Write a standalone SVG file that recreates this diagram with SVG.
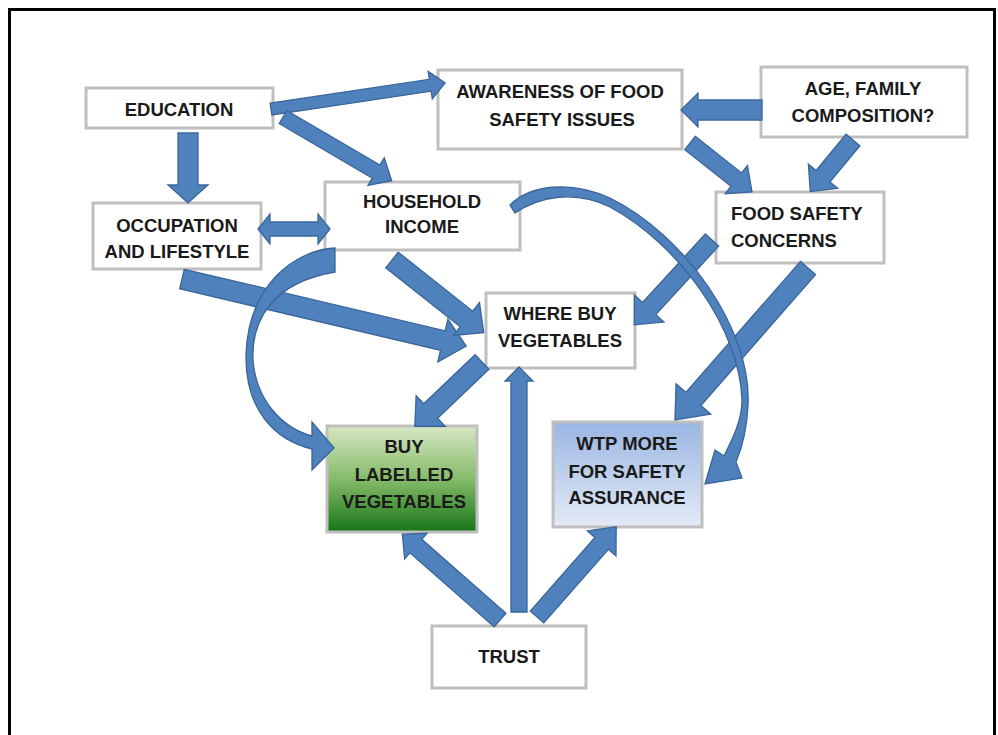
<svg xmlns="http://www.w3.org/2000/svg" width="998" height="735" viewBox="0 0 998 735">
<style>
.box{fill:#fff;stroke:#bfbfbf;stroke-width:3}
.t{font-family:"Liberation Sans",Arial,sans-serif;font-weight:bold;font-size:18.5px;fill:#1a1a1a;text-anchor:middle}
.tl{text-anchor:start}
.ar{fill:#4f81bd;stroke:#3a659a;stroke-width:1.3;stroke-linejoin:miter}
</style>
<defs>
<linearGradient id="gGreen" x1="0" y1="0" x2="0" y2="1">
<stop offset="0" stop-color="#d6e7c2"/>
<stop offset="0.5" stop-color="#86bb6a"/>
<stop offset="1" stop-color="#177517"/>
</linearGradient>
<linearGradient id="gBlue" x1="0" y1="0" x2="0" y2="1">
<stop offset="0" stop-color="#9ab5e2"/>
<stop offset="1" stop-color="#e4ebf7"/>
</linearGradient>
</defs>
<rect x="0" y="0" width="998" height="735" fill="#fff"/>
<rect x="9.5" y="9.5" width="985" height="800" fill="none" stroke="#000" stroke-width="3"/>

<g id="n-education"><rect class="box" x="86" y="88" width="187" height="40"/><text class="t" x="179" y="116">EDUCATION</text></g>
<g id="n-occupation"><rect class="box" x="93" y="203" width="168" height="66"/><text class="t" x="177" y="232">OCCUPATION</text><text class="t" x="177" y="258">AND LIFESTYLE</text></g>
<g id="n-income"><rect class="box" x="325" y="182" width="195" height="68"/><text class="t" x="422" y="208">HOUSEHOLD</text><text class="t" x="422" y="233">INCOME</text></g>
<g id="n-awareness"><rect class="box" x="438" y="70" width="244" height="79"/><text class="t" x="560" y="98">AWARENESS OF FOOD</text><text class="t" x="562" y="126">SAFETY ISSUES</text></g>
<g id="n-age"><rect class="box" x="761" y="67" width="206" height="70"/><text class="t" x="863" y="95">AGE, FAMILY</text><text class="t" x="863" y="122">COMPOSITION?</text></g>
<g id="n-concerns"><rect class="box" x="716" y="192" width="168" height="71"/><text class="t tl" x="731" y="220">FOOD SAFETY</text><text class="t tl" x="731" y="247">CONCERNS</text></g>
<g id="n-where"><rect class="box" x="486" y="293" width="149" height="75"/><text class="t" x="560" y="320">WHERE BUY</text><text class="t" x="560" y="347">VEGETABLES</text></g>
<g id="n-buy"><rect x="327" y="426" width="150" height="106" fill="url(#gGreen)" stroke="#bfbfbf" stroke-width="3"/><text class="t" x="404" y="453">BUY</text><text class="t" x="404" y="481">LABELLED</text><text class="t" x="404" y="508">VEGETABLES</text></g>
<g id="n-wtp"><rect x="553" y="422" width="149" height="105" fill="url(#gBlue)" stroke="#bfbfbf" stroke-width="3"/><text class="t" x="627" y="450">WTP MORE</text><text class="t" x="627" y="478">FOR SAFETY</text><text class="t" x="627" y="504">ASSURANCE</text></g>
<g id="n-trust"><rect class="box" x="432" y="626" width="154" height="62"/><text class="t" x="509" y="663">TRUST</text></g>

<g id="connectors">
<polygon class="ar" points="0,-10 52,-10 52,-20 70,0 52,20 52,10 0,10" transform="translate(188,133) rotate(90)"/>
<polygon class="ar" points="0,-6 161,-6 161,-14 176,0 161,14 161,6 0,6" transform="translate(271,109) rotate(-8.5)"/>
<polygon class="ar" points="0,-7.5 108,-7.5 108,-16 126,0 108,16 108,7.5 0,7.5" transform="translate(283,117) rotate(30.4)"/>
<polygon class="ar" points="258,229 270,214 270,222 318,222 318,214 330,229 318,244 318,236 270,236 270,244"/>
<polygon class="ar" points="0,-10 268,-10 268,-22 292,0 268,22 268,10 0,10" transform="translate(182,279) rotate(13.27)"/>
<polygon class="ar" points="0,-10 95,-10 95,-21 117,0 95,21 95,10 0,10" transform="translate(392,260) rotate(38.4)"/>
<polygon class="ar" points="0,-8.5 59,-8.5 59,-18 79,0 59,18 59,8.5 0,8.5" transform="translate(690,143) rotate(38.3)"/>
<polygon class="ar" points="0,-9 47,-9 47,-19 67,0 47,19 47,9 0,9" transform="translate(853,140) rotate(129.6)"/>
<polygon class="ar" points="0,-10 64,-10 64,-17 81,0 64,17 64,10 0,10" transform="translate(762,110) rotate(180)"/>
<polygon class="ar" points="0,-9 93,-9 93,-20 115,0 93,20 93,9 0,9" transform="translate(712,240) rotate(132.5)"/>
<polygon class="ar" points="0,-10 174,-10 174,-23 202,0 174,23 174,10 0,10" transform="translate(808,268) rotate(131.2)"/>
<polygon class="ar" points="0,-10 71,-10 71,-21 93,0 71,21 71,10 0,10" transform="translate(482,362) rotate(136.3)"/>
<polygon class="ar" points="0,-9 112,-9 112,-17 130,0 112,17 112,9 0,9" transform="translate(500,620) rotate(-138.7)"/>
<polygon class="ar" points="0,-8 231,-8 231,-14 245,0 231,14 231,8 0,8" transform="translate(519,612) rotate(-90)"/>
<polygon class="ar" points="0,-9 98,-9 98,-19 120,0 98,19 98,9 0,9" transform="translate(537,617) rotate(-48.7)"/>
<path class="ar" d="M335,248 C295,250 248,285 246,355 C245,410 275,440 312,449 L312,470 L334,448 L312,422 L312,436 C282,428 256,400 253,360 C251,318 275,282 335,272 Z"/>
<path class="ar" d="M510,205 C530,185 570,180 610,198 C685,235 752,330 748,405 C747,428 742,448 736,462 L742,478 L705,484 L715,450 L724,456 C733,438 742,420 742,400 C740,330 680,245 610,207 C575,190 540,196 515,213 Z"/>
</g>
</svg>
